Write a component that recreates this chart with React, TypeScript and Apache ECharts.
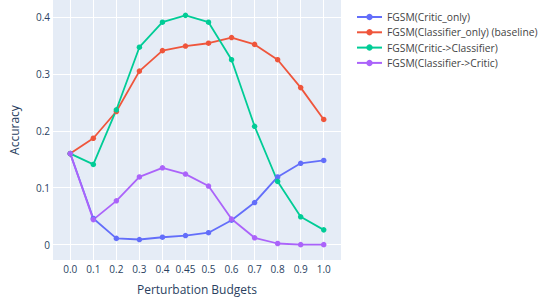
import React, { useEffect, useRef } from "react";
import * as echarts from "echarts";

const categories = ["0.0", "0.1", "0.2", "0.3", "0.4", "0.45", "0.5", "0.6", "0.7", "0.8", "0.9", "1.0"];
const criticOnly = [0.16, 0.046, 0.011, 0.009, 0.013, 0.016, 0.021, 0.043, 0.074, 0.119, 0.143, 0.148];
const classifierOnly = [0.16, 0.187, 0.234, 0.305, 0.341, 0.349, 0.354, 0.364, 0.352, 0.325, 0.276, 0.22];
const criticToClassifier = [0.16, 0.141, 0.237, 0.347, 0.391, 0.403, 0.391, 0.325, 0.208, 0.111, 0.049, 0.026];
const classifierToCritic = [0.16, 0.044, 0.077, 0.119, 0.135, 0.124, 0.103, 0.045, 0.012, 0.002, 0.0, 0.0];
const yTicks = [0, 0.1, 0.2, 0.3, 0.4];
const seriesNames = [
  "FGSM(Critic_only)",
  "FGSM(Classifier_only) (baseline)",
  "FGSM(Critic->Classifier)",
  "FGSM(Classifier->Critic)",
];
const colors = ["#636efa", "#ef553b", "#00cc96", "#ab63fa"];

export default function App() {
  const ref = useRef<HTMLDivElement>(null);
  useEffect(() => {
    if (!ref.current) return;
    const chart = echarts.init(ref.current, undefined, { renderer: "svg" });
    const font = "'Open Sans', 'DejaVu Sans', sans-serif";
    const allData = [criticOnly, classifierOnly, criticToClassifier, classifierToCritic];
    const xIdx = categories.map((_, i) => i);
    chart.setOption({
      animation: false,
      backgroundColor: "#ffffff",
      textStyle: { fontFamily: font },
      grid: {
        left: 45,
        right: 201,
        top: 0,
        bottom: 37,
        show: true,
        backgroundColor: "#e5ecf6",
        borderWidth: 0,
      },
      legend: {
        orient: "vertical",
        left: 351,
        top: 7,
        itemWidth: 25,
        itemHeight: 8,
        itemGap: 5.3,
        textStyle: { fontFamily: font, fontSize: 10.3, color: "#444" },
        data: seriesNames,
      },
      xAxis: {
        type: "value",
        min: -0.75,
        max: 11.75,
        name: "Perturbation Budgets",
        nameLocation: "middle",
        nameGap: 23,
        nameTextStyle: { fontFamily: font, fontSize: 12, color: "#2a3f5f" },
        axisLine: { show: false },
        axisTick: { show: false, customValues: xIdx },
        axisLabel: {
          customValues: xIdx,
          margin: 4,
          fontFamily: font,
          fontSize: 10,
          color: "#2a3f5f",
          formatter: (v: number) => categories[Math.round(v)] ?? "",
        },
        splitLine: { show: true, lineStyle: { color: "#ffffff", width: 1 } },
      },
      yAxis: {
        type: "value",
        min: -0.027,
        max: 0.43,
        name: "Accuracy",
        nameLocation: "middle",
        nameGap: 33,
        nameTextStyle: { fontFamily: font, fontSize: 12, color: "#2a3f5f" },
        axisLine: { show: false },
        axisTick: { show: false, customValues: yTicks },
        axisLabel: {
          customValues: yTicks,
          margin: 3,
          fontFamily: font,
          fontSize: 10,
          color: "#2a3f5f",
          formatter: (v: number) => (v === 0 ? "0" : v.toFixed(1)),
        },
        splitLine: { show: true, lineStyle: { color: "#ffffff", width: 1 } },
      },
      series: seriesNames.map((name, s) => ({
        name,
        type: "line",
        data: allData[s].map((v, i) => [i, v]),
        symbol: "circle",
        symbolSize: 5.5,
        showSymbol: true,
        color: colors[s],
        lineStyle: { width: 1.8, color: colors[s] },
        itemStyle: { color: colors[s] },
      })),
    });
    return () => chart.dispose();
  }, []);
  return <div ref={ref} style={{ width: 542, height: 300, position: "absolute", left: 0, top: 0 }} />;
}
